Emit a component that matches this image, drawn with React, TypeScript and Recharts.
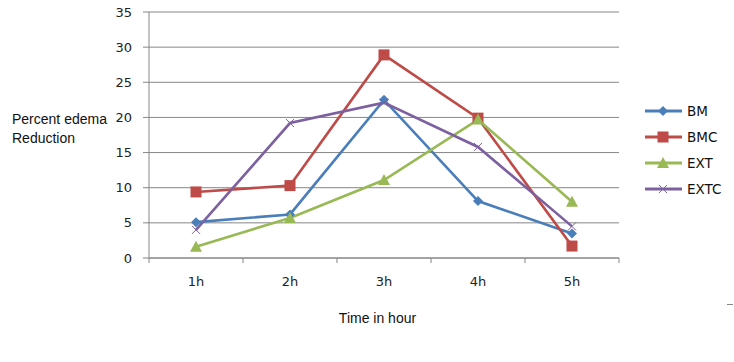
import { LineChart, Line, XAxis, YAxis, CartesianGrid } from 'recharts';

const hours = ['1h', '2h', '3h', '4h', '5h'];
const bm = [5.1, 6.2, 22.5, 8.1, 3.5];
const bmc = [9.4, 10.3, 28.9, 19.9, 1.7];
const ext = [1.6, 5.7, 11.1, 19.7, 8.0];
const extc = [4.0, 19.2, 22.1, 15.8, 4.5];
const yTicks = [0, 5, 10, 15, 20, 25, 30, 35];

const SERIES = [
  { key: 'BM', color: '#4A7EBB', shape: 'diamond' },
  { key: 'BMC', color: '#BE4B48', shape: 'square' },
  { key: 'EXT', color: '#98B954', shape: 'triangle' },
  { key: 'EXTC', color: '#7D60A0', shape: 'cross' },
];

const data = hours.map((h, i) => ({
  hour: h,
  BM: bm[i],
  BMC: bmc[i],
  EXT: ext[i],
  EXTC: extc[i],
}));

const AXIS = '#868686';
const TICK_FONT = '"DejaVu Sans", Verdana, sans-serif';
const TITLE_FONT = '"Liberation Sans", Arial, sans-serif';
const PLOT_W = 470;
const HALF_BAND = PLOT_W / hours.length / 2;

function Marker({ shape, color, cx, cy }: { shape: string; color: string; cx: number; cy: number }) {
  if (shape === 'diamond') {
    return <polygon points={`${cx},${cy - 5} ${cx + 5},${cy} ${cx},${cy + 5} ${cx - 5},${cy}`} fill={color} />;
  }
  if (shape === 'square') {
    return <rect x={cx - 5.5} y={cy - 5.5} width={11} height={11} fill={color} />;
  }
  if (shape === 'triangle') {
    return <polygon points={`${cx},${cy - 6} ${cx + 6},${cy + 5} ${cx - 6},${cy + 5}`} fill={color} />;
  }
  return (
    <g stroke={color} strokeWidth={1}>
      <line x1={cx - 4} y1={cy - 4} x2={cx + 4} y2={cy + 4} />
      <line x1={cx - 4} y1={cy + 4} x2={cx + 4} y2={cy - 4} />
    </g>
  );
}

const makeDot = (shape: string, color: string) => (props: any) => {
  const { cx, cy, index } = props;
  if (cx == null || cy == null) return <g key={index} />;
  return <Marker key={index} shape={shape} color={color} cx={cx} cy={cy} />;
};

const XTick = ({ x, y, payload, index, visibleTicksCount }: any) => (
  <g>
    <line x1={x - HALF_BAND} y1={y - 8} x2={x - HALF_BAND} y2={y - 3} stroke={AXIS} />
    {index === visibleTicksCount - 1 && (
      <line x1={x + HALF_BAND} y1={y - 8} x2={x + HALF_BAND} y2={y - 3} stroke={AXIS} />
    )}
    <text x={x} y={y + 20} textAnchor="middle" fontSize={13} fontFamily={TICK_FONT} fill="#222">
      {payload.value}
    </text>
  </g>
);

function ChartLegend() {
  return (
    <svg width={90} height={110} style={{ position: 'absolute', left: 640, top: 100 }}>
      {SERIES.map((s, i) => {
        const cy = 11 + i * 26;
        return (
          <g key={s.key}>
            <line x1={5} y1={cy} x2={42} y2={cy} stroke={s.color} strokeWidth={3} />
            <Marker shape={s.shape} color={s.color} cx={23} cy={cy} />
            <text x={47} y={cy + 5} fontSize={13.5} fontFamily={TICK_FONT} fill="#111">
              {s.key}
            </text>
          </g>
        );
      })}
    </svg>
  );
}

export default function App() {
  return (
    <div style={{ position: 'absolute', left: 0, top: 0, width: 734, height: 362, background: '#fff' }}>
      <LineChart width={734} height={362} data={data} margin={{ top: 12, right: 115, left: 0, bottom: 0 }}>
        <CartesianGrid horizontal vertical={false} stroke={AXIS} strokeWidth={1} />
        <XAxis
          dataKey="hour"
          height={104}
          axisLine={{ stroke: AXIS }}
          tickLine={false}
          tick={<XTick />}
          interval={0}
          padding={{ left: HALF_BAND, right: HALF_BAND }}
        />
        <YAxis
          domain={[0, 35]}
          ticks={yTicks}
          width={149}
          axisLine={{ stroke: AXIS }}
          tickLine={{ stroke: AXIS }}
          tickSize={6}
          tickMargin={11}
          tick={{ fontSize: 13, fontFamily: TICK_FONT, fill: '#222' }}
          interval={0}
        />
        {SERIES.map((s) => (
          <Line
            key={s.key}
            dataKey={s.key}
            stroke={s.color}
            strokeWidth={2.6}
            dot={makeDot(s.shape, s.color)}
            activeDot={false}
            isAnimationActive={false}
          />
        ))}
      </LineChart>
      <ChartLegend />
      <div style={{ position: 'absolute', left: 12, top: 110, fontSize: 14, lineHeight: '19px', fontFamily: TITLE_FONT, color: '#111' }}>
        Percent edema
        <br />
        Reduction
      </div>
      <div style={{ position: 'absolute', left: 0, width: 755, top: 310, textAlign: 'center', fontSize: 14, fontFamily: TITLE_FONT, color: '#111' }}>
        Time in hour
      </div>
      <div style={{ position: 'absolute', left: 727, top: 304, width: 6, height: 1, background: AXIS }} />
    </div>
  );
}
